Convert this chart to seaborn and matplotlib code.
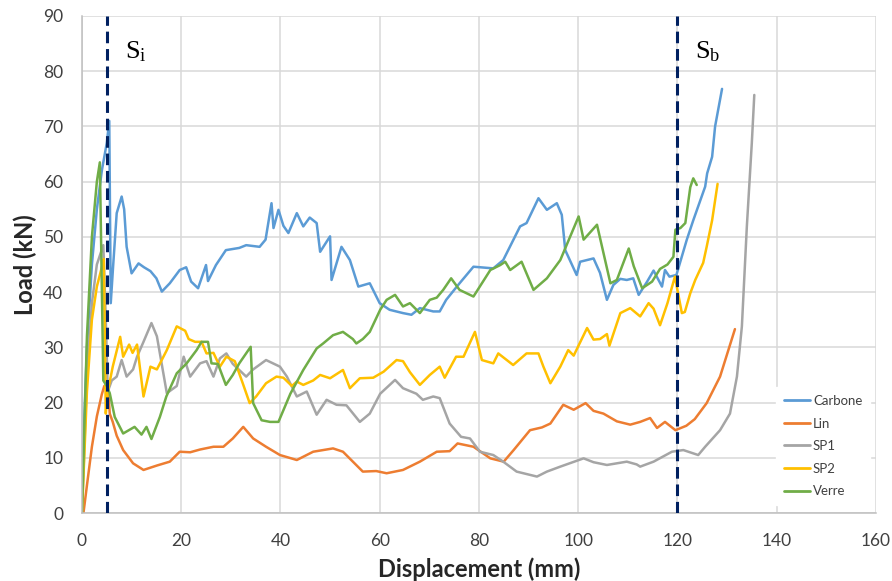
import numpy as np
import pandas as pd
import matplotlib
matplotlib.use("Agg")
import matplotlib.pyplot as plt
import seaborn as sns

# data (displacement in mm, load in kN)
carbone_x = [0, 0.5, 1, 2, 3, 4, 5, 5.5, 5.8, 6.3, 7, 8, 8.5, 9, 10, 11.4, 12.5, 13.8, 15, 16.1, 17.7, 19.7, 21, 22, 23.4,
             25, 25.4, 27, 29, 31.7, 33.1, 35.8, 37, 38.2, 38.6, 39.6, 40.6, 41.6, 43.3, 44.6, 45.9, 47.3, 48, 50, 50.3,
             52.3, 54, 55.7, 58, 60, 62, 64.7, 66.4, 68.1, 70.8, 72.1, 73.4, 76.1, 78.9, 82.9, 84.9, 88.3, 89.6, 92,
             93.7, 95.7, 96.7, 97.4, 99.7, 100.4, 103.1, 104.4, 105.8, 107.1, 108.5, 109.8, 111.1, 112.2, 113.9, 115.2,
             116.9, 117.5, 118.4, 119.8, 121.9, 123.2, 125.6, 126, 127, 127.6, 129]
carbone_y = [0, 18, 30, 45, 55, 62, 67, 71, 38, 45, 54.3, 57.3, 55, 48.2, 43.4, 45.2, 44.5, 43.8, 42.5, 40.1, 41.6, 44,
             44.5, 41.9, 40.7, 44.9, 42, 44.9, 47.6, 48, 48.5, 48.2, 49.5, 56.1, 51.6, 54.9, 52, 50.7, 54.3, 51.9, 53.5,
             52.5, 47.3, 50.1, 42.2, 48.2, 45.8, 41, 41.6, 38, 36.8, 36.2, 35.9, 37.1, 36.5, 36.5, 38.6, 41.6, 44.6, 44.3,
             45.8, 51.9, 52.5, 57, 54.9, 56.1, 54, 47.6, 43.1, 45.5, 46.1, 43.5, 38.6, 41.3, 42.4, 42.2, 42.5, 39.5, 41.9,
             43.9, 41, 44, 42.8, 43.1, 49.5, 53, 59.1, 61.5, 64.5, 70, 76.8]

lin_x = [0, 0.3, 1, 2, 3, 4, 4.5, 5.3, 5.6, 6.2, 7, 8.3, 10.3, 12.4, 15.1, 17.7, 19.7, 21.8, 23.8, 26.5, 28.5, 30.4, 32.5,
         34.5, 37.1, 39.9, 43.3, 46.6, 50.6, 52.6, 54.6, 56.6, 59.3, 61.4, 64.7, 68.1, 71.5, 74.1, 75.7, 78.9, 82.3, 85,
         87, 90.3, 92.7, 94.4, 97, 99.1, 101.5, 103.1, 105.1, 107.8, 110.5, 112.5, 114.5, 115.9, 117.5, 119.6, 121.8,
         123.5, 125.9, 128.6, 131.6]
lin_y = [0, 0, 5, 12, 17.5, 21.5, 23, 22, 18, 16.5, 14, 11.4, 9, 7.8, 8.6, 9.3, 11.1, 11, 11.5, 12, 12, 13.5, 15.6, 13.5,
         12, 10.5, 9.6, 11.1, 11.7, 11.1, 9.3, 7.5, 7.6, 7.2, 7.8, 9.3, 11.1, 11.2, 12.6, 12, 9.9, 9.3, 11.4, 15, 15.5,
         16.2, 19.6, 18.7, 19.9, 18.5, 18, 16.6, 16, 16.5, 17.2, 15.4, 16.5, 15, 15.8, 17, 19.9, 24.7, 33.3]

sp1_x = [0, 1, 2, 3, 4.3, 4.8, 5.2, 6, 7, 8, 9, 10.3, 11.1, 12.4, 14, 15.1, 17.1, 19.1, 20.5, 21.8, 23.8, 25.1, 26.5,
         27.8, 29.1, 30.4, 33.1, 34.5, 37.1, 39.9, 41.3, 43.3, 45.3, 47.3, 49.3, 51.3, 53.3, 56, 58, 60.1, 63.1, 64.7,
         67.4, 68.7, 70.8, 72.1, 74.1, 76.4, 78.2, 80.2, 82.9, 84.9, 87.6, 91.7, 93.7, 96.4, 101.1, 103.1, 105.8, 109.8,
         111.8, 112.5, 115.2, 118.9, 121.2, 124.2, 125.6, 128.6, 130.6, 132, 133, 134, 135, 135.5]
sp1_y = [0, 25, 38, 45, 48.5, 35, 22, 24, 24.7, 27.7, 24.7, 26, 28.3, 31, 34.4, 32, 21.7, 23, 28.3, 24.7, 27.1, 27.5,
         24.7, 28, 28.9, 27, 24.7, 26, 27.7, 26.5, 24.7, 21.1, 22, 17.8, 20.5, 19.6, 19.5, 16.5, 18, 21.6, 24.1, 22.6,
         21.6, 20.5, 21.1, 20.8, 16.2, 13.8, 13.5, 11.1, 10.5, 9.3, 7.5, 6.6, 7.5, 8.4, 9.9, 9.2, 8.7, 9.3, 8.8, 8.4,
         9.3, 11.1, 11.4, 10.5, 12, 15, 18, 24.7, 33.8, 51.9, 67, 75.7]

sp2_x = [0, 1, 2, 3, 4, 4.4, 4.8, 5.2, 6.2, 7.7, 8.3, 9.5, 10.2, 11.1, 12.4, 13.8, 15.1, 17.1, 19.1, 20.8, 21.5, 22.8,
         24.1, 25.1, 26.5, 27.8, 29.1, 30.8, 32.4, 33.8, 35.1, 37.1, 39.2, 40.6, 42.3, 43.3, 44.6, 46.6, 48, 50, 52.6,
         54, 56, 58.7, 60.8, 63.4, 64.7, 66.1, 68.1, 70.1, 72.1, 73.1, 75.4, 76.9, 79.2, 80.6, 82.9, 83.9, 86.9, 89.6,
         92, 93, 94.4, 96.4, 98, 99.1, 101.8, 103.1, 104.4, 105.8, 106.3, 108.5, 110.5, 112.5, 114.2, 115.2, 116.5, 118,
         119.5, 120.9, 121.5, 122.6, 123.6, 125.2, 125.9, 127, 128.1]
sp2_y = [0, 22, 35, 41, 44.5, 46, 18, 22, 26.5, 31.9, 28.3, 30.5, 29, 30.5, 21.1, 26.5, 26, 29.5, 33.8, 33, 31.5, 31, 31,
         28.9, 29, 26.5, 28.3, 27.5, 23.5, 19.9, 21.1, 23.5, 24.7, 24.5, 23, 23.8, 23.2, 24, 25, 24.4, 25.9, 22.6, 24.4,
         24.5, 25.6, 27.7, 27.5, 25.5, 23.2, 25, 26.5, 24.5, 28.3, 28.3, 32.8, 27.7, 27.1, 28.9, 26.8, 28.9, 28.9, 26.5,
         23.5, 26.5, 29.5, 28.5, 33.5, 31.4, 31.5, 32.4, 30.3, 36.2, 37.1, 35.6, 38, 37, 34, 38, 42.8, 36.2, 36.4, 39.8,
         42.2, 45.3, 48.2, 53, 59.6]

verre_x = [0, 1, 2, 3, 3.6, 4.3, 5, 5.6, 6.6, 8.3, 10.6, 12, 13, 14, 15.7, 17, 19.1, 21.1, 23.1, 24.1, 25.4, 26.1, 27.4,
           29, 30.4, 31.7, 34, 34.5, 36.2, 37.9, 39.6, 42, 44.6, 47.3, 48.6, 50.6, 52.6, 54.6, 55.3, 56.6, 58, 60.1,
           61.4, 63.1, 64.7, 66.1, 68.1, 70.1, 71.5, 72.8, 74.4, 76.1, 78.9, 82.3, 84.3, 85.3, 86.3, 88.6, 91, 93.7,
           96.4, 100.1, 101.1, 103.8, 106.5, 107.8, 110.2, 111.2, 112.9, 114.9, 116.5, 118, 119.2, 119.6, 120.6, 121.6,
           122.6, 123.2, 123.9]
verre_y = [0, 32, 50, 60, 63.5, 24, 23, 21.7, 17.4, 14.4, 15.6, 14.2, 15.6, 13.4, 17.4, 21.1, 25.3, 27.1, 29.5, 31, 31,
           27.1, 27, 23.2, 25, 27.1, 30.1, 19.9, 16.8, 16.5, 16.5, 21.6, 25.9, 29.8, 30.7, 32.2, 32.8, 31.5, 30.7, 31.5,
           32.8, 36.8, 38.6, 39.5, 37.4, 38, 36.2, 38.6, 39, 40.4, 42.5, 40.4, 39.2, 44, 44.9, 45.5, 44, 45.5, 40.4, 42.5,
           45.8, 53.7, 49.5, 52.2, 41.6, 42.2, 47.9, 44.7, 40.7, 41.9, 44.2, 45, 46.4, 51.3, 51.6, 52.5, 59, 60.6, 59.4]

series_names = ["Carbone", "Lin", "SP1", "SP2", "Verre"]
series_colors = ["#5B9BD5", "#ED7D31", "#A5A5A5", "#FFC000", "#70AD47"]
xs = [carbone_x, lin_x, sp1_x, sp2_x, verre_x]
ys = [carbone_y, lin_y, sp1_y, sp2_y, verre_y]

x_ticks = [0, 20, 40, 60, 80, 100, 120, 140, 160]
y_ticks = [0, 10, 20, 30, 40, 50, 60, 70, 80, 90]
s_i, s_b = 5, 120

frames = []
for name, x, y in zip(series_names, xs, ys):
    frames.append(pd.DataFrame({"Displacement": x, "Load": y, "Material": name}))
df = pd.concat(frames, ignore_index=True)

sns.set_style("white")
plt.rcParams["font.family"] = ["Lato", "DejaVu Sans"]
plt.rcParams["mathtext.fontset"] = "custom"
plt.rcParams["mathtext.rm"] = "Liberation Serif"

fig = plt.figure(figsize=(8.92, 5.81), dpi=100)
ax = fig.add_axes([0.0919, 0.117, 0.890, 0.8555])

sns.lineplot(data=df, x="Displacement", y="Load", hue="Material", hue_order=series_names,
             palette=series_colors, sort=False, estimator=None, units="Material", linewidth=1.8,
             ax=ax, legend=True)

for xv in [s_i, s_b]:
    ax.axvline(xv, color="#002060", linestyle=(0, (3.8, 1.9)), linewidth=2.2, zorder=5)

ax.text(8.7, 82.4, r"$\mathrm{S_i}$", fontsize=19, color="black")
ax.text(123.5, 82.4, r"$\mathrm{S_b}$", fontsize=19, color="black")

ax.set_xlim(0, 160)
ax.set_ylim(0, 90)
ax.set_xticks(x_ticks)
ax.set_yticks(y_ticks)
ax.grid(True, color="#D9D9D9", linewidth=1.1)
ax.set_axisbelow(True)
for side in ["top", "right"]:
    ax.spines[side].set_visible(False)
for side in ["left", "bottom"]:
    ax.spines[side].set_color("#BFBFBF")
    ax.spines[side].set_linewidth(1.1)
ax.tick_params(axis="both", labelsize=12.5, labelcolor="#404040", color="#BFBFBF", length=4.5, width=1.1)
ax.tick_params(axis="y", pad=9)
ax.tick_params(axis="x", pad=10)
ax.set_xlabel("Displacement (mm)", fontsize=17, fontweight="bold", color="#262626", labelpad=6)
ax.set_ylabel("Load (kN)", fontsize=17, fontweight="bold", color="#262626", labelpad=4)

leg = ax.legend(loc="lower right", bbox_to_anchor=(0.998, 0.008), fontsize=9.5, frameon=True,
                facecolor="white", edgecolor="white", framealpha=1, handlelength=2.0,
                handletextpad=0.2, labelspacing=0.8, borderpad=0.6, borderaxespad=0.3, fancybox=False)
for line in leg.get_lines():
    line.set_linewidth(2)
for t in leg.get_texts():
    t.set_color("#404040")

fig.savefig("out.png", dpi=100)
